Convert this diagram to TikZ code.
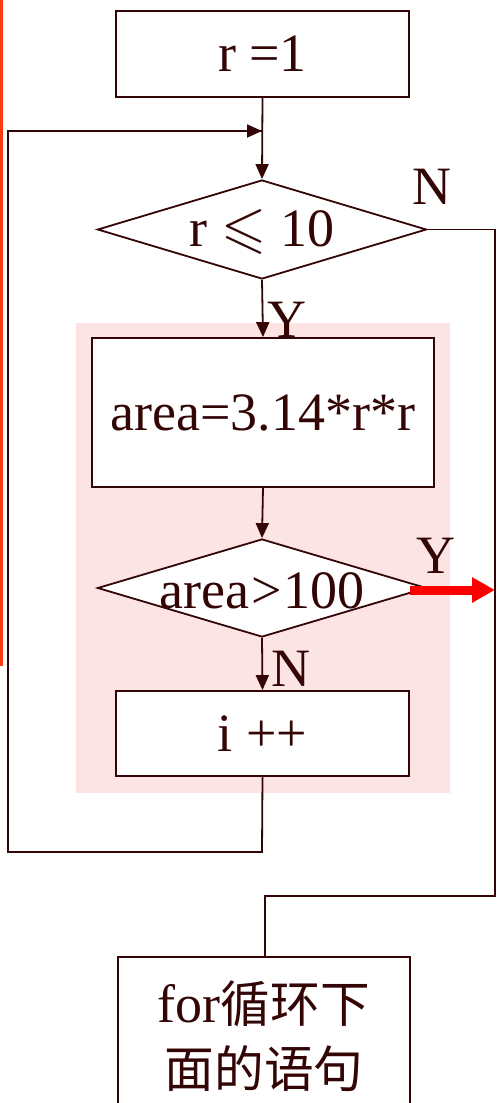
\RequirePackage{fix-cm}
\documentclass[tikz,border=0pt]{standalone}
\usepackage{fontspec}
\usepackage{amssymb}
\setmainfont{Liberation Serif}
\newfontfamily\cjk[Scale=0.92]{Noto Sans CJK SC}
\usetikzlibrary{shapes.geometric,arrows.meta}
\definecolor{ink}{HTML}{330505}
\definecolor{pinkbg}{HTML}{FDE4E4}
\definecolor{orangeline}{HTML}{FF3A10}
\tikzset{
  x=1pt,y=-1pt,
  every node/.style={text=ink,font=\fontsize{54}{65}\selectfont},
  procbox/.style={draw=ink,line width=1.8pt,fill=white,rectangle,inner sep=0pt},
  decbox/.style={draw=ink,line width=1.8pt,fill=white,diamond,inner sep=0pt},
  conn/.style={draw=ink,line width=1.8pt},
  arr/.style={conn,-{Triangle[length=15pt,width=13pt]}},
  redarr/.style={draw=red,line width=9pt,-{Triangle[length=23pt,width=24pt]}},
  lbl/.style={inner sep=0pt}
}
\begin{document}
\begin{tikzpicture}
\clip (0,0) rectangle (500,1103);
\fill[white] (0,0) rectangle (500,1103);
\fill[orangeline] (0,0) rectangle (3,666);
\fill[pinkbg] (76,323) rectangle (450,793);

\node[procbox,minimum width=293pt,minimum height=86pt] (start) at (262.5,54) {r =1};
\node[decbox,minimum width=329pt,minimum height=99pt] (d1) at (262,229.5) {};
\node[lbl] (d1t) at (262,232) {r {\fontsize{58}{65}\selectfont$\leqslant$} 10};
\node[procbox,minimum width=342pt,minimum height=149pt] (area) at (263,412.5) {area=3.14*r*r};
\node[decbox,minimum width=329pt,minimum height=98pt] (d2) at (262,588) {};
\node[lbl] (d2t) at (262,591) {area\kern2pt>\kern2pt100};
\node[procbox,minimum width=293pt,minimum height=85pt] (inc) at (262.5,733.5) {i ++};
\node[procbox,minimum width=292pt,minimum height=158pt,align=center] (next) at (264,1036) {for{\cjk 循环下}\\{\cjk 面的语句}};

\node[lbl] (lN1) at (432,187) {N};
\node[lbl] (lY1) at (287,320) {Y};
\node[lbl] (lY2) at (436,556) {Y};
\node[lbl] (lN2) at (291,669) {N};

\coordinate (j) at (262,131);
\coordinate (rt) at (495,229.5);
\coordinate (rb) at (495,896);
\coordinate (mb) at (265,896);
\coordinate (lb1) at (262,852);
\coordinate (lb2) at (8,852);
\coordinate (lt) at (8,131);
\coordinate (redend) at (495,590);
\coordinate (redstart) at (410,590);

\draw[arr] (start.south) -- (d1.north);
\draw[arr] (d1.south) -- (area.north);
\draw[arr] (area.south) -- (d2.north);
\draw[arr] (d2.south) -- (inc.north);
\draw[conn] (inc.south) -- (lb1) -- (lb2) -- (lt) -- (j);
\draw[arr] (lt) -- (j);
\draw[conn] (d1.east) -- (rt) -- (rb) -- (mb) -- (next.north -| mb);
\draw[redarr] (redstart) -- (redend);
\end{tikzpicture}
\end{document}
